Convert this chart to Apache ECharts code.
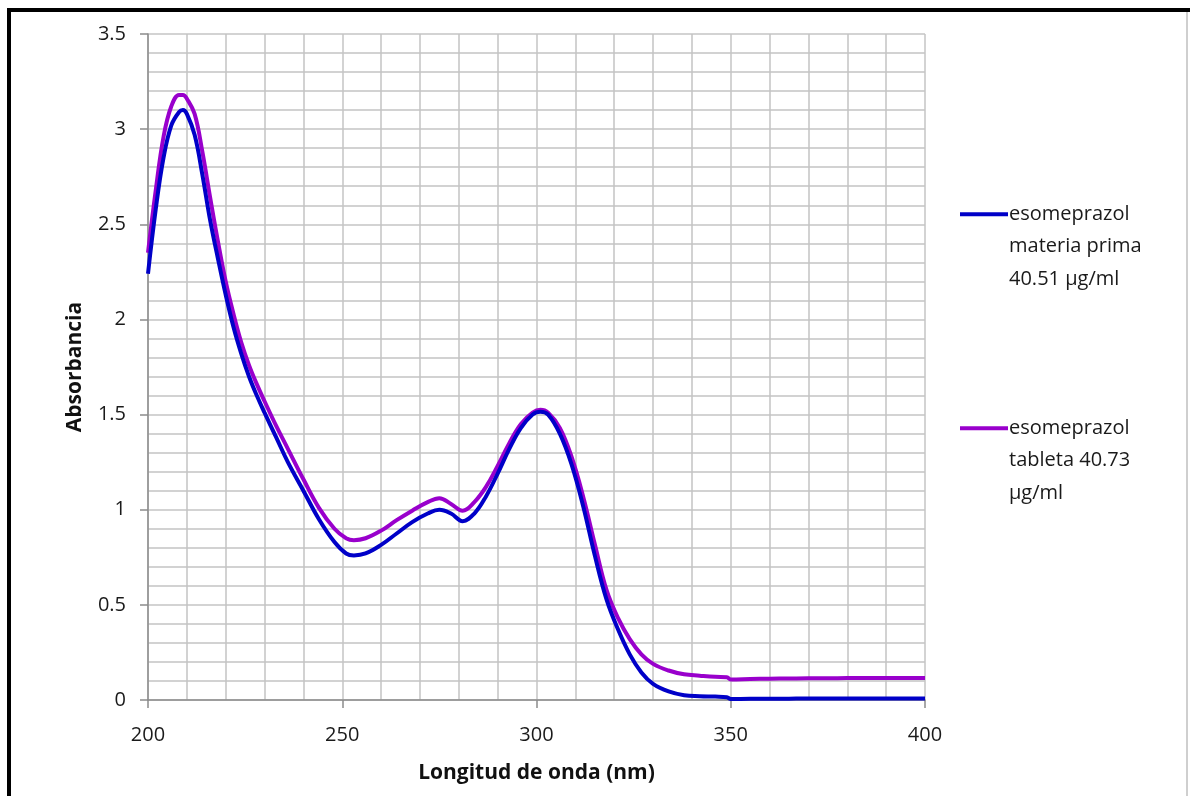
<!DOCTYPE html>
<html>
<head>
<meta charset="utf-8">
<script src="https://cdn.jsdelivr.net/npm/echarts@6/dist/echarts.min.js"></script>
<style>
  html, body { margin: 0; padding: 0; background: #fff; }
  #chart { width: 1190px; height: 796px; }
</style>
</head>
<body>
<div id="chart"></div>
<script>
// wavelength (nm)
const wavelengths = [200, 202, 204, 206, 208, 209, 210, 212, 214, 216, 218, 220, 222, 224, 226, 228, 230, 233, 236, 240,
  244, 248, 251, 253, 256, 260, 264, 268, 272, 275, 278, 281, 284, 287, 290, 293, 296, 299, 301, 303,
  306, 309, 312, 315, 318, 321, 324, 327, 330, 334, 338, 342, 346, 349, 350, 355, 360, 365, 370, 375,
  380, 385, 390, 395, 400];

// esomeprazol materia prima
const rawMaterial = [2.24, 2.58, 2.85, 3.02, 3.09, 3.10, 3.08, 2.97, 2.76, 2.52, 2.32, 2.13, 1.96, 1.82, 1.70, 1.60, 1.51, 1.38, 1.25, 1.10,
  0.95, 0.83, 0.77, 0.76, 0.77, 0.815, 0.875, 0.935, 0.98, 1.00, 0.98, 0.94, 0.98, 1.07, 1.19, 1.32, 1.43, 1.50, 1.515, 1.50,
  1.40, 1.24, 1.02, 0.76, 0.53, 0.37, 0.24, 0.145, 0.085, 0.045, 0.025, 0.02, 0.018, 0.015, 0.005, 0.006, 0.006, 0.007, 0.008, 0.008,
  0.008, 0.008, 0.008, 0.008, 0.008];

// esomeprazol tableta
const tablet = [2.35, 2.68, 2.96, 3.12, 3.18, 3.18, 3.16, 3.08, 2.88, 2.64, 2.41, 2.20, 2.03, 1.88, 1.76, 1.66, 1.57, 1.44, 1.32, 1.16,
  1.01, 0.90, 0.85, 0.84, 0.85, 0.89, 0.945, 0.995, 1.04, 1.06, 1.03, 0.995, 1.04, 1.12, 1.23, 1.35, 1.45, 1.51, 1.525, 1.51,
  1.43, 1.28, 1.07, 0.82, 0.58, 0.43, 0.32, 0.24, 0.19, 0.155, 0.135, 0.128, 0.122, 0.12, 0.108, 0.11, 0.112, 0.113, 0.114, 0.114,
  0.115, 0.115, 0.115, 0.115, 0.115];

const seriesNames = ['esomeprazol materia prima 40.51 µg/ml', 'esomeprazol tableta 40.73 µg/ml'];
// two blank lines first so the icon sits next to the first text line
const legendLabels = ['\n\nesomeprazol\nmateria prima\n40.51 µg/ml', '\n\nesomeprazol\ntableta 40.73\nµg/ml'];

const chart = echarts.init(document.getElementById('chart'));

const font = '"Open Sans", sans-serif';
const gridColor = '#c4c4c4';

function pairs(ys) {
  return wavelengths.map((x, i) => [x, ys[i]]);
}

function legendFor(i, top) {
  return {
    data: [seriesNames[i]],
    left: 960,
    top: top,
    orient: 'vertical',
    icon: 'rect',
    itemWidth: 48,
    itemHeight: 4,
    itemGap: 0,
    padding: 0,
    formatter: () => legendLabels[i],
    textStyle: {
      fontFamily: font,
      fontSize: 20,
      color: '#1a1a1a',
      lineHeight: 32.5,
      padding: [0, 0, 0, -4]
    }
  };
}

const option = {
  animation: false,
  backgroundColor: '#fff',
  grid: {
    left: 148,
    top: 34,
    right: 265,
    bottom: 96
  },
  legend: [legendFor(0, 133), legendFor(1, 347)],
  xAxis: {
    type: 'value',
    min: 200,
    max: 400,
    interval: 50,
    name: 'Longitud de onda (nm)',
    nameLocation: 'middle',
    nameGap: 63,
    nameTextStyle: { fontFamily: font, fontSize: 21, fontWeight: 'bold', color: '#111' },
    axisLine: { show: true, lineStyle: { color: '#8c8c8c', width: 1.5 } },
    axisTick: { show: true, length: 8, lineStyle: { color: '#8c8c8c', width: 1.5 } },
    axisLabel: { fontFamily: font, fontSize: 20, color: '#1a1a1a', margin: 25 },
    splitLine: { show: true, lineStyle: { color: gridColor, width: 1.5 } },
    minorTick: { show: false, splitNumber: 5 },
    minorSplitLine: { show: true, lineStyle: { color: gridColor, width: 1.5 } }
  },
  yAxis: {
    type: 'value',
    min: 0,
    max: 3.5,
    interval: 0.5,
    name: 'Absorbancia',
    nameLocation: 'middle',
    nameGap: 62,
    nameRotate: 90,
    nameTextStyle: { fontFamily: font, fontSize: 21, fontWeight: 'bold', color: '#111' },
    axisLine: { show: true, lineStyle: { color: '#8c8c8c', width: 1.5 } },
    axisTick: { show: true, length: 8, lineStyle: { color: '#8c8c8c', width: 1.5 } },
    axisLabel: { fontFamily: font, fontSize: 20, color: '#1a1a1a', margin: 22 },
    splitLine: { show: true, lineStyle: { color: gridColor, width: 1.5 } },
    minorTick: { show: false, splitNumber: 5 },
    minorSplitLine: { show: true, lineStyle: { color: gridColor, width: 1.5 } }
  },
  series: [
    {
      name: seriesNames[0],
      type: 'line',
      data: pairs(rawMaterial),
      showSymbol: false,
      symbol: 'none',
      smooth: 0.4,
      lineStyle: { color: '#0000c8', width: 4 },
      itemStyle: { color: '#0000c8' },
      z: 3
    },
    {
      name: seriesNames[1],
      type: 'line',
      data: pairs(tablet),
      showSymbol: false,
      symbol: 'none',
      smooth: 0.4,
      lineStyle: { color: '#9900cc', width: 4 },
      itemStyle: { color: '#9900cc' },
      z: 2
    }
  ],
  // outer frame of the original figure
  graphic: [
    { type: 'rect', shape: { x: 7, y: 8, width: 1200, height: 4 }, style: { fill: '#000' } },
    { type: 'rect', shape: { x: 7, y: 8, width: 4, height: 800 }, style: { fill: '#000' } },
    { type: 'rect', shape: { x: 1186, y: 12, width: 2, height: 800 }, style: { fill: '#cfcfcf' } }
  ]
};

chart.setOption(option);
</script>
</body>
</html>
